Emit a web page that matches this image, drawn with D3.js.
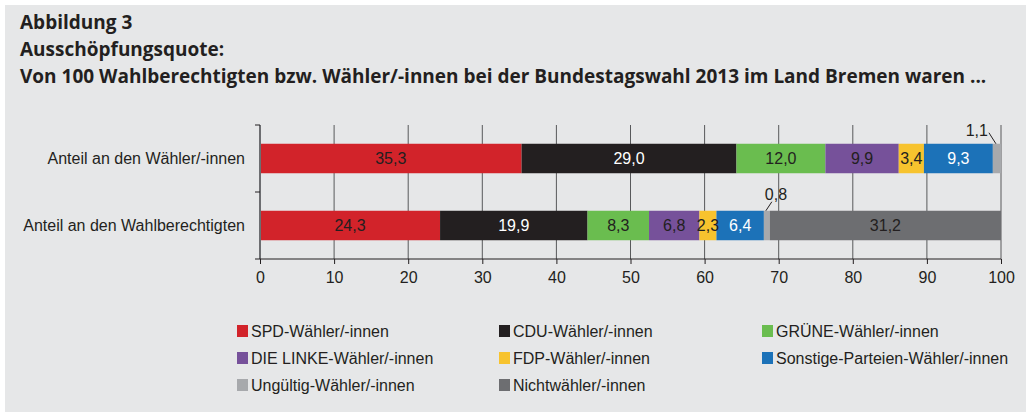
<!DOCTYPE html>
<html><head><meta charset="utf-8">
<script src="https://cdn.jsdelivr.net/npm/d3@7"></script>
<style>body{margin:0;background:#fff}svg{display:block}</style>
</head><body>
<svg id="c" width="1026" height="412"></svg>
<script>
const titleLines = ["Abbildung 3", "Ausschöpfungsquote:", "Von 100 Wahlberechtigten bzw. Wähler/-innen bei der Bundestagswahl 2013 im Land Bremen waren ..."];
const categories = ["Anteil an den Wähler/-innen", "Anteil an den Wahlberechtigten"];
const seriesNames = ["SPD-Wähler/-innen", "CDU-Wähler/-innen", "GRÜNE-Wähler/-innen", "DIE LINKE-Wähler/-innen", "FDP-Wähler/-innen", "Sonstige-Parteien-Wähler/-innen", "Ungültig-Wähler/-innen", "Nichtwähler/-innen"];
const valuesWaehler = [35.3, 29.0, 12.0, 9.9, 3.4, 9.3, 1.1, 0];
const valuesBerechtigte = [24.3, 19.9, 8.3, 6.8, 2.3, 6.4, 0.8, 31.2];
const xTicks = [0, 10, 20, 30, 40, 50, 60, 70, 80, 90, 100];
const colors = ["#d2232a", "#231f20", "#6abd4f", "#76519a", "#f7c32e", "#1c72b8", "#a7a9ac", "#6d6e71"];
const labelColors = ["#231f20", "#ffffff", "#231f20", "#231f20", "#231f20", "#ffffff", "#231f20", "#231f20"];

const svg = d3.select("#c");
svg.append("rect").attr("x", 5).attr("y", 5).attr("width", 1021).attr("height", 407).attr("fill", "#e6e7e8");

svg.selectAll("text.title").data(titleLines).join("text")
  .attr("x", 20).attr("y", (d, i) => 29 + i * 27)
  .attr("font-family", "'Open Sans', sans-serif").attr("font-weight", "bold")
  .attr("font-size", 19).attr("fill", "#231f20").text(d => d);

const x = d3.scaleLinear().domain([0, 100]).range([260, 1001]);
const y = d3.scaleBand().domain(categories).range([125, 259]).paddingInner(0.56).paddingOuter(0.28);
const font = "'Liberation Sans', Arial, sans-serif";
const fs = 16;

// gridlines
svg.append("g").selectAll("line").data(xTicks.slice(1)).join("line")
  .attr("x1", d => x(d)).attr("x2", d => x(d)).attr("y1", 125).attr("y2", 259)
  .attr("stroke", "#58595b").attr("stroke-width", 1);

// stacked data
const rows = [valuesWaehler, valuesBerechtigte];
const data = [];
rows.forEach((vals, r) => {
  let acc = 0;
  vals.forEach((v, i) => {
    data.push({cat: categories[r], i, v, x0: acc, x1: acc + v});
    acc += v;
  });
});

svg.append("g").selectAll("rect").data(data.filter(d => d.v > 0)).join("rect")
  .attr("x", d => x(d.x0)).attr("width", d => x(d.x1) - x(d.x0))
  .attr("y", d => y(d.cat)).attr("height", y.bandwidth())
  .attr("fill", d => colors[d.i]);

const fmt = v => v.toFixed(1).replace(".", ",");
svg.append("g").selectAll("text").data(data.filter(d => d.v > 0 && d.i !== 6)).join("text")
  .attr("x", d => (x(d.x0) + x(d.x1)) / 2).attr("y", d => y(d.cat) + y.bandwidth() / 2)
  .attr("dy", "0.35em").attr("text-anchor", "middle")
  .attr("font-family", font).attr("font-size", fs)
  .attr("fill", d => labelColors[d.i]).text(d => fmt(d.v));

// annotations for Ungültig
const ung = data.filter(d => d.i === 6);
const ann = [{d: ung[0], dx: -7, dy: -11, anchor: "end", tx: -1, ty: 3},
             {d: ung[1], dx: 6, dy: -9, anchor: "start", tx: -7, ty: -2}];
ann.forEach(a => {
  const ex = (x(a.d.x0) + x(a.d.x1)) / 2 - 1, ey = y(a.d.cat);
  svg.append("line").attr("x1", ex).attr("y1", ey).attr("x2", ex + a.dx).attr("y2", ey + a.dy)
    .attr("stroke", "#231f20").attr("stroke-width", 1);
  svg.append("text").attr("x", ex + a.dx + a.tx).attr("y", ey + a.dy + a.ty)
    .attr("text-anchor", a.anchor).attr("font-family", font).attr("font-size", fs)
    .attr("fill", "#231f20").text(fmt(a.d.v));
});

// y axis
const yBounds = [y.range()[0], y(categories[1]) - y.step() * y.paddingInner() / 2, y.range()[1]];
svg.append("line").attr("x1", 260).attr("x2", 260).attr("y1", 125).attr("y2", 259)
  .attr("stroke", "#6d6e71").attr("stroke-width", 2);
svg.append("g").selectAll("line").data(yBounds).join("line")
  .attr("x1", 255).attr("x2", 260).attr("y1", d => d).attr("y2", d => d)
  .attr("stroke", "#231f20");
svg.append("g").selectAll("text").data(categories).join("text")
  .attr("x", 245).attr("y", d => y(d) + y.bandwidth() / 2).attr("dy", "0.35em")
  .attr("text-anchor", "end").attr("font-family", font).attr("font-size", fs)
  .attr("fill", "#231f20").text(d => d);

// x axis
const xAxis = svg.append("g").attr("transform", "translate(0,259)")
  .call(d3.axisBottom(x).tickValues(xTicks).tickSize(5).tickPadding(8).tickFormat(d => d));
xAxis.select(".domain").attr("stroke", "#231f20").attr("d", `M${x(0)},0H${x(100)}`);
xAxis.selectAll(".tick line").attr("stroke", "#231f20");
xAxis.selectAll(".tick text").attr("font-family", font).attr("font-size", fs).attr("fill", "#231f20");

// legend
const colX = [237, 499, 762], rowY = [331, 358, 385];
const lg = svg.append("g").selectAll("g").data(seriesNames).join("g")
  .attr("transform", (d, i) => `translate(${colX[i % 3]},${rowY[Math.floor(i / 3)]})`);
lg.append("rect").attr("x", 0).attr("y", -6).attr("width", 11).attr("height", 12).attr("fill", (d, i) => colors[i]);
lg.append("text").attr("x", 14).attr("dy", "0.35em").attr("font-family", font).attr("font-size", fs)
  .attr("fill", "#231f20").text(d => d);
</script>
</body></html>
